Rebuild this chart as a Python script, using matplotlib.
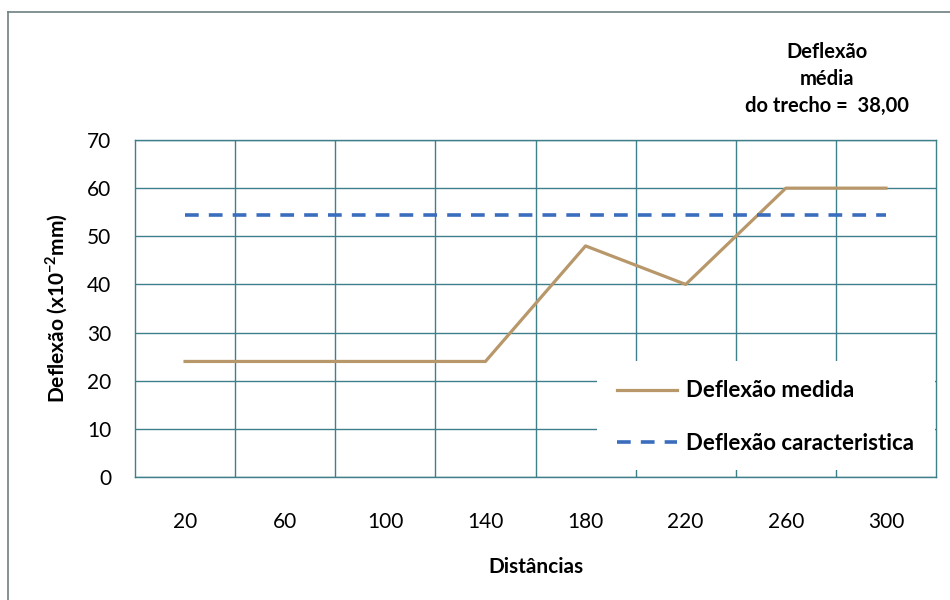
import matplotlib
matplotlib.use('Agg')
import matplotlib.pyplot as plt
from matplotlib.lines import Line2D
from matplotlib.patches import Rectangle

plt.rcParams['font.family'] = ['Lato', 'DejaVu Sans']
plt.rcParams['mathtext.fontset'] = 'custom'
plt.rcParams['mathtext.rm'] = 'Lato'
plt.rcParams['mathtext.bf'] = 'Lato:bold'

# data
distancias = ['20', '60', '100', '140', '180', '220', '260', '300']
deflexao_medida = [24, 24, 24, 24, 48, 40, 60, 60]
deflexao_caracteristica = [54.5, 54.5, 54.5, 54.5, 54.5, 54.5, 54.5, 54.5]
media_trecho = '38,00'

grid_color = '#3f7f8a'
cor_medida = '#b8986a'
cor_carac = '#3a6dbd'

W, H = 950, 600
fig = plt.figure(figsize=(9.5, 6), dpi=100)

# plot area in pixels (left, top, right, bottom)
x0, y0, x1, y1 = 135, 140, 936, 477
ax = fig.add_axes([x0 / W, 1 - y1 / H, (x1 - x0) / W, (y1 - y0) / H])

x = list(range(len(distancias)))
ax.plot(x, deflexao_medida, color=cor_medida, linewidth=2.3,
        label='Deflexão medida', zorder=4)
ax.plot(x, deflexao_caracteristica, color=cor_carac, linewidth=2.6,
        dashes=(3.8, 2.8), label='Deflexão caracteristica', zorder=4)

ax.set_xlim(-0.5, len(distancias) - 0.5)
ax.set_ylim(0, 70)
ax.set_yticks(range(0, 71, 10))
ax.set_xticks(x)
ax.set_xticklabels(distancias)
ax.set_xticks([i + 0.5 for i in range(len(distancias) - 1)], minor=True)

ax.grid(True, which='major', axis='y', color=grid_color, linewidth=1.0)
ax.grid(True, which='minor', axis='x', color=grid_color, linewidth=1.0)
ax.tick_params(axis='both', which='both', length=0, labelsize=15)
ax.tick_params(axis='y', pad=17)
ax.tick_params(axis='x', pad=25)
for s in ax.spines.values():
    s.set_color(grid_color)
    s.set_linewidth(1.0)

# white box behind the legend, as in the original (hides the grid)
bx0, by_top, by_bot = 597, 361, 470
ax.add_patch(Rectangle(((bx0 - x0) / (x1 - x0), (y1 - by_bot) / (y1 - y0)),
                       (x1 - 1 - bx0) / (x1 - x0), (by_bot - by_top) / (y1 - y0),
                       transform=ax.transAxes, facecolor='white',
                       edgecolor='none', zorder=3))

leg = ax.legend(loc='center left',
                bbox_to_anchor=((617 - x0) / (x1 - x0), (y1 - 417) / (y1 - y0)),
                frameon=False, borderpad=0, borderaxespad=0,
                handlelength=2.7, handletextpad=0.4, labelspacing=1.4,
                prop={'size': 16, 'weight': 'bold'})
leg.set_zorder(5)

ax.set_ylabel('Deflexão (x10$^{\\mathbf{-2}}$mm)', fontsize=15,
              fontweight='bold')
ax.yaxis.set_label_coords((70 - x0) / (x1 - x0), 0.5)
ax.set_xlabel('Distâncias', fontsize=15, fontweight='bold', labelpad=18)

fig.text(827 / W, 1 - 79 / H, 'Deflexão\nmédia\ndo trecho =  ' + media_trecho,
         ha='center', va='center', fontsize=14.5, fontweight='bold',
         linespacing=1.45)

# outer chart border (only left and top edges fall inside the scan)
fig.add_artist(Line2D([8 / W, 8 / W], [0, 1 - 12 / H], color='#6f7f80',
                      linewidth=1.2, transform=fig.transFigure))
fig.add_artist(Line2D([8 / W, 1], [1 - 12 / H, 1 - 12 / H], color='#6f7f80',
                      linewidth=1.2, transform=fig.transFigure))

fig.savefig('out.png', dpi=100)
